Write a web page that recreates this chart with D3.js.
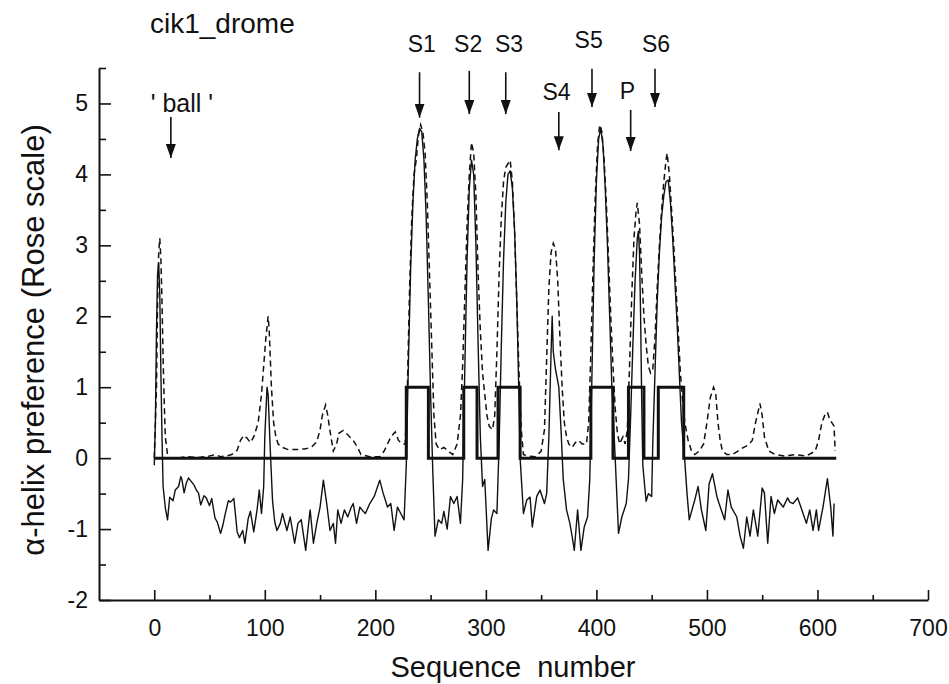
<!DOCTYPE html>
<html>
<head lang="en">
    <meta charset="UTF-8">
    <title>cik1_drome helix profile</title>
    <script src="https://cdn.jsdelivr.net/npm/d3@7/dist/d3.min.js"></script>
    <style>
        body { margin: 0; background: #fff; }
        text { font-family: "Liberation Sans", Arial, sans-serif; fill: #111; }
        .axis path, .axis line { stroke: #111; }
    </style>
</head>
<body>
<script>

    // helix preference (Rose scale), solid thin line
    var roseProfile = [[0,-0.1],[1,0.5],[2,1.8],[3,2.6],[4,2.75],[5,2.3],[6,1.2],[7,0.3],[8,-0.4],[10,-0.7],[12,-0.87],[14,-0.55],[17,-0.6],[19,-0.45],[22,-0.4],[24,-0.26],[25,-0.3],[27,-0.49],[29,-0.35],[31,-0.28],[33,-0.32],[36,-0.38],[38,-0.45],[40,-0.49],[42,-0.66],[45,-0.53],[47,-0.56],[50,-0.67],[52,-0.57],[55,-0.85],[57,-0.9],[60,-1.06],[62,-0.95],[64,-0.8],[67,-0.6],[69,-0.62],[72,-0.57],[75,-1.04],[77,-1.12],[80,-1.02],[82,-1.2],[85,-0.85],[87,-0.75],[90,-1.04],[93,-0.73],[95,-0.45],[97,-0.78],[99,-0.4],[100,0.3],[102,1.0],[103,0.9],[105,0.1],[107,-0.6],[109,-0.9],[111,-1.02],[114,-0.92],[116,-0.78],[120,-1.02],[123,-0.83],[127,-1.2],[130,-0.92],[133,-0.87],[137,-1.3],[141,-0.73],[144,-1.2],[147,-0.92],[150,-0.69],[153,-0.31],[156,-0.64],[159,-1.02],[162,-0.92],[164,-1.2],[166,-0.73],[169,-0.92],[172,-0.73],[175,-0.83],[178,-0.7],[180,-0.64],[183,-0.92],[186,-0.69],[189,-0.75],[191,-0.78],[195,-0.64],[199,-0.54],[204,-0.31],[207,-0.49],[211,-0.69],[214,-0.64],[217,-1.02],[220,-0.69],[223,-0.78],[226,-0.87],[228,-0.1],[230,1.4],[232,2.7],[234,3.6],[236,4.2],[238,4.5],[240,4.65],[242,4.6],[244,4.2],[246,3.4],[248,2.2],[250,0.9],[252,-0.2],[254,-1.1],[257,-0.87],[260,-0.92],[262,-0.75],[265,-1.0],[268,-0.54],[271,-0.64],[274,-0.54],[277,-0.92],[279,-0.3],[281,1.3],[283,2.8],[285,3.8],[287,4.2],[289,4.0],[291,3.0],[293,1.6],[295,0.3],[297,-0.4],[299,-0.3],[302,-1.3],[305,-0.85],[307,-0.73],[310,-0.78],[312,0.2],[314,1.6],[316,2.8],[318,3.6],[320,4.0],[322,4.05],[324,3.8],[326,3.2],[328,2.2],[330,0.8],[331,0],[334,-0.78],[337,-0.59],[340,-0.55],[342,-0.97],[346,-0.54],[349,-0.45],[353,-0.64],[355,-0.5],[357,0.3],[359,1.5],[360,2.0],[361,1.5],[363,1.25],[366,1.0],[368,0.4],[370,-0.3],[373,-0.73],[376,-0.92],[378,-1.1],[380,-1.3],[383,-0.73],[386,-1.3],[389,-0.97],[392,-0.83],[394,-0.3],[396,1.2],[398,2.8],[400,3.9],[402,4.5],[404,4.65],[406,4.4],[408,3.8],[410,3.0],[412,2.0],[414,1.0],[417,0],[420,-1.06],[423,-0.83],[427,-0.64],[429,-0.3],[431,0.6],[433,1.6],[435,2.5],[437,3.1],[438,3.2],[439,2.9],[440,2.0],[441,0.8],[442,-0.1],[444,-0.45],[445,-0.61],[447,-0.5],[450,-0.54],[451,0.2],[453,1.2],[455,2.2],[457,2.9],[459,3.4],[461,3.7],[463,3.9],[465,3.92],[467,3.6],[469,3.1],[471,2.5],[473,1.9],[475,1.2],[477,0.5],[480,-0.05],[482,-0.5],[484,-0.87],[487,-0.7],[489,-0.59],[492,-0.4],[495,-0.73],[499,-1.02],[502,-0.36],[505,-0.22],[509,-0.54],[511,-0.64],[516,-0.87],[519,-0.45],[522,-0.69],[527,-0.83],[530,-1.1],[533,-1.27],[536,-0.83],[539,-1.1],[542,-0.73],[546,-1.1],[550,-0.42],[552,-0.49],[555,-1.2],[558,-0.54],[561,-0.78],[564,-0.59],[567,-0.65],[569,-0.69],[573,-0.56],[575,-0.62],[578,-0.64],[582,-0.56],[585,-0.69],[590,-0.92],[593,-0.73],[596,-1.02],[599,-0.73],[601,-1.02],[605,-0.69],[609,-0.29],[612,-0.69],[614,-1.1],[615,-0.64]];

    // predicted helix profile, dashed line
    var predProfile = [[0,0],[2,1.0],[3,2.2],[4,2.9],[5,3.1],[6,2.8],[7,2.2],[8,1.4],[9,0.8],[10,0.3],[12,0.05],[13,0],[20,0],[30,0.02],[40,0.01],[50,0.03],[55,0.05],[60,0.02],[65,0.03],[70,0.05],[75,0.11],[78,0.25],[81,0.32],[84,0.28],[87,0.22],[90,0.3],[94,0.5],[97,0.9],[99,1.3],[101,1.7],[103,2.0],[104,1.8],[106,1.0],[108,0.5],[110,0.3],[112,0.2],[116,0.15],[121,0.12],[128,0.12],[136,0.13],[142,0.15],[147,0.23],[150,0.4],[152,0.6],[155,0.75],[157,0.6],[159,0.38],[162,0.1],[165,0.2],[167,0.35],[171,0.39],[175,0.33],[180,0.25],[184,0.15],[187,0.05],[195,0.02],[204,0.02],[208,0.1],[211,0.2],[214,0.3],[218,0.37],[221,0.25],[224,0.2],[227,0.2],[229,1.0],[231,2.4],[233,3.4],[235,4.0],[237,4.2],[239,4.55],[241,4.7],[243,4.6],[245,4.3],[247,3.6],[249,2.6],[251,1.6],[253,0.6],[255,0.2],[258,0.12],[262,0.15],[266,0.1],[270,0.05],[274,0.2],[277,0.6],[279,1.3],[281,2.3],[283,3.3],[285,4.0],[287,4.45],[289,4.3],[291,3.7],[293,2.6],[295,1.8],[297,1.2],[299,0.9],[301,0.6],[303,0.45],[306,0.4],[308,0.6],[310,1.5],[312,2.6],[314,3.4],[316,3.9],[318,4.1],[320,4.15],[322,4.2],[324,3.9],[326,3.2],[328,2.2],[330,1.2],[332,0.4],[334,0.05],[338,0.03],[345,0.02],[350,0.1],[353,0.4],[355,1.4],[357,2.4],[359,2.9],[361,3.03],[363,2.95],[365,2.5],[367,1.7],[369,1.0],[371,0.5],[373,0.3],[375,0.2],[378,0.15],[381,0.22],[384,0.25],[387,0.2],[391,0.2],[393,0.5],[395,1.5],[397,2.7],[399,3.7],[401,4.4],[403,4.7],[405,4.6],[407,4.2],[409,3.6],[411,2.8],[413,2.0],[415,1.3],[417,0.7],[419,0.35],[421,0.2],[424,0.3],[426,0.2],[428,0.4],[430,1.3],[432,2.3],[434,3.1],[436,3.5],[437,3.6],[439,3.3],[441,2.6],[443,2.0],[445,1.6],[447,1.3],[449,1.2],[451,1.25],[453,1.7],[455,2.4],[457,3.0],[459,3.5],[461,3.9],[463,4.2],[464,4.3],[466,4.0],[468,3.5],[470,3.0],[472,2.4],[474,1.8],[476,1.2],[478,0.8],[480,0.5],[483,0.25],[486,0.1],[489,0.05],[493,0.1],[497,0.2],[500,0.5],[503,0.85],[506,1.0],[508,0.9],[510,0.5],[512,0.25],[514,0.1],[518,0.05],[523,0.05],[528,0.1],[532,0.14],[537,0.18],[541,0.25],[544,0.5],[548,0.77],[550,0.6],[552,0.3],[556,0.1],[562,0.05],[570,0.03],[580,0.05],[590,0.03],[598,0.1],[601,0.25],[604,0.5],[607,0.62],[609,0.65],[611,0.55],[613,0.5],[615,0.45],[616,0.1]];

    // assigned helix segments (step line)
    var segStart = [0, 228, 248, 280, 292, 311, 331, 395, 415, 429, 443, 456, 479, 617];
    var segLevel = [0, 1, 0, 1, 0, 1, 0, 1, 0, 1, 0, 1, 0, 0];

    // arrows with their labels
    var annoText   = ["' ball '", "S1", "S2", "S3", "S4", "S5", "P", "S6"];
    var annoSeq    = [15, 240, 285, 318, 366, 396, 431, 453];
    var annoTop    = [4.81, 5.44, 5.46, 5.44, 4.88, 5.49, 4.91, 5.49];
    var annoTip    = [4.23, 4.80, 4.85, 4.85, 4.34, 4.95, 4.33, 4.95];
    var annoLabelX = [25, 242, 284, 321, 364, 393, 428, 454];
    var annoLabelY = [4.88, 5.73, 5.73, 5.73, 5.05, 5.78, 5.06, 5.73];

    var xMajor = [0, 100, 200, 300, 400, 500, 600, 700];
    var xMinor = [50, 150, 250, 350, 450, 550, 650];
    var yMajor = [-2, -1, 0, 1, 2, 3, 4, 5];
    var yMinor = [-1.5, -0.5, 0.5, 1.5, 2.5, 3.5, 4.5, 5.5];

    var width = 949,
        height = 684;

    var x = d3.scaleLinear().domain([-50, 700]).range([99, 928]);
    var y = d3.scaleLinear().domain([-2, 5.5]).range([600, 68]);

    var svg = d3.select("body").append("svg")
        .attr("width", width)
        .attr("height", height);

    svg.append("rect").attr("width", width).attr("height", height).attr("fill", "#fff");

    // plain hyphen for negatives, like the original
    var fmt = function(d) { return String(d); };

    // axes: ticks point inward
    var gx = svg.append("g").attr("class", "axis")
        .attr("transform", "translate(0," + y(-2) + ")")
        .call(d3.axisBottom(x).tickValues(xMajor).tickSize(-10).tickSizeOuter(0).tickPadding(20).tickFormat(fmt));
    gx.append("g").call(d3.axisBottom(x).tickValues(xMinor).tickSize(-5).tickSizeOuter(0).tickFormat(""))
        .select(".domain").remove();
    gx.select(".domain").attr("stroke-width", 2);
    gx.selectAll("line").attr("stroke-width", 1.6);
    gx.selectAll("text").style("font-size", "23px").attr("fill", "#111");

    var gy = svg.append("g").attr("class", "axis")
        .attr("transform", "translate(" + x(-50) + ",0)")
        .call(d3.axisLeft(y).tickValues(yMajor).tickSize(-12).tickSizeOuter(0).tickFormat(fmt));
    gy.append("g").call(d3.axisLeft(y).tickValues(yMinor).tickSize(-7).tickSizeOuter(0).tickFormat(""))
        .select(".domain").remove();
    gy.select(".domain").attr("stroke-width", 2);
    gy.selectAll("line").attr("stroke-width", 1.6);
    gy.selectAll(".tick text").style("font-size", "23px").attr("fill", "#111")
        .attr("x", -11).attr("text-anchor", "end");

    // curves
    var line = d3.line()
        .x(function(d) { return x(d[0]); })
        .y(function(d) { return y(d[1]); });

    svg.append("path")
        .datum(predProfile)
        .attr("d", line)
        .attr("fill", "none")
        .attr("stroke", "#111")
        .attr("stroke-width", 1.5)
        .attr("stroke-dasharray", "6,4");

    svg.append("path")
        .datum(roseProfile)
        .attr("d", line)
        .attr("fill", "none")
        .attr("stroke", "#111")
        .attr("stroke-width", 1.4)
        .attr("stroke-linejoin", "round");

    var steps = d3.line()
        .x(function(d, i) { return x(segStart[i]); })
        .y(function(d) { return y(d); })
        .curve(d3.curveStepAfter);

    svg.append("path")
        .datum(segLevel)
        .attr("d", steps)
        .attr("fill", "none")
        .attr("stroke", "#111")
        .attr("stroke-width", 3);

    // arrow annotations; head drawn along the line direction
    svg.append("defs").append("marker")
        .attr("id", "head")
        .attr("viewBox", "0 0 14 10")
        .attr("refX", 14).attr("refY", 5)
        .attr("markerWidth", 14).attr("markerHeight", 10)
        .attr("markerUnits", "userSpaceOnUse")
        .attr("orient", "auto")
        .append("path")
        .attr("d", "M0,0 L14,5 L0,10 Z")
        .attr("fill", "#111");

    var anno = svg.append("g").selectAll("g")
        .data(annoText)
        .enter().append("g");

    anno.append("line")
        .attr("x1", function(d, i) { return x(annoSeq[i]); })
        .attr("x2", function(d, i) { return x(annoSeq[i]); })
        .attr("y1", function(d, i) { return y(annoTop[i]); })
        .attr("y2", function(d, i) { return y(annoTip[i]); })
        .attr("stroke", "#111")
        .attr("stroke-width", 1.6)
        .attr("marker-end", "url(#head)");

    anno.append("text")
        .attr("x", function(d, i) { return x(annoLabelX[i]); })
        .attr("y", function(d, i) { return y(annoLabelY[i]); })
        .attr("text-anchor", "middle")
        .style("font-size", function(d, i) { return i === 0 ? "25px" : "23px"; })
        .text(function(d) { return d; });

    // titles
    svg.append("text")
        .attr("x", 150).attr("y", 33)
        .style("font-size", "28px")
        .text("cik1_drome");

    svg.append("text")
        .attr("x", 513).attr("y", 677)
        .attr("text-anchor", "middle")
        .style("font-size", "29px")
        .style("white-space", "pre")
        .attr("xml:space", "preserve")
        .text("Sequence  number");

    svg.append("text")
        .attr("transform", "translate(44,340) rotate(-90)")
        .attr("text-anchor", "middle")
        .style("font-size", "31px")
        .text("\u03b1-helix preference (Rose scale)");

</script>
</body>
</html>
